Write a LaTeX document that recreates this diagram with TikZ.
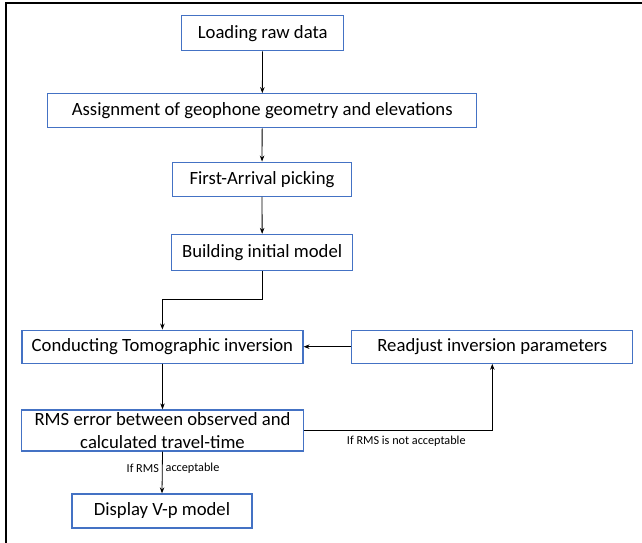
\documentclass[tikz,border=0pt]{standalone}
\usepackage{fontspec}
\setmainfont{Carlito}
\usetikzlibrary{arrows.meta}
\definecolor{boxblue}{RGB}{68,114,196}
\begin{document}
\begin{tikzpicture}
      [x=1pt,y=-1pt,>={Stealth[length=6pt,width=4.5pt]},
      step node/.style={rectangle,draw=boxblue,line width=1.3pt,fill=white,
        inner sep=0pt,align=center,font=\fontsize{18.7}{22.7}\selectfont},
      flow/.style={->,draw=black,line width=0.8pt},
      note/.style={font=\fontsize{12.2}{14}\selectfont,inner sep=2pt}]
      \useasboundingbox (0,0) rectangle (642,543);
      \draw[line width=1.4pt] (6,543) -- (6,3) -- (642,3);
      \node[step node,minimum width=162pt,minimum height=35pt] (load) at (262.7,33.2) {Loading raw data};
      \node[step node,minimum width=429pt,minimum height=34pt] (geom) at (262.2,110.8) {Assignment of geophone geometry and elevations};
      \node[step node,minimum width=179pt,minimum height=34pt] (pick) at (262,179.2) {First-Arrival picking};
      \node[step node,minimum width=181pt,minimum height=36pt] (init) at (262.2,252.5) {Building initial model};
      \node[step node,minimum width=281pt,minimum height=33pt] (inv) at (162.4,346.7) {Conducting Tomographic inversion};
      \node[step node,minimum width=281pt,minimum height=33pt] (adj) at (492.3,346.7) {Readjust inversion parameters};
      \node[step node,minimum width=282pt,minimum height=41pt] (rms) at (162.5,430.5) {RMS error between observed and\\calculated travel-time};
      \node[step node,minimum width=180pt,minimum height=34pt] (vp) at (162,511) {Display V-p model};
      \coordinate (bend) at (162.4,299.3);
      \path[flow] (load) -- (geom);
      \path[flow] (geom) -- (pick);
      \path[flow] (pick) -- (init);
      \path[flow] (init.south) |- (bend) -- (inv.north);
      \path[flow] (adj) -- (inv);
      \path[flow] (inv.south) -- (rms.north);
      \path[flow] (rms.east) -| (adj.south)
        node[note,pos=0.5,below=3pt,xshift=-86pt] {If RMS is not acceptable};
      \path[flow] (rms.south) -- (vp.north)
        node[note,pos=0.4,left=1pt] {If RMS}
        node[note,pos=0.4,right=1pt] {acceptable};
\end{tikzpicture}
\end{document}
